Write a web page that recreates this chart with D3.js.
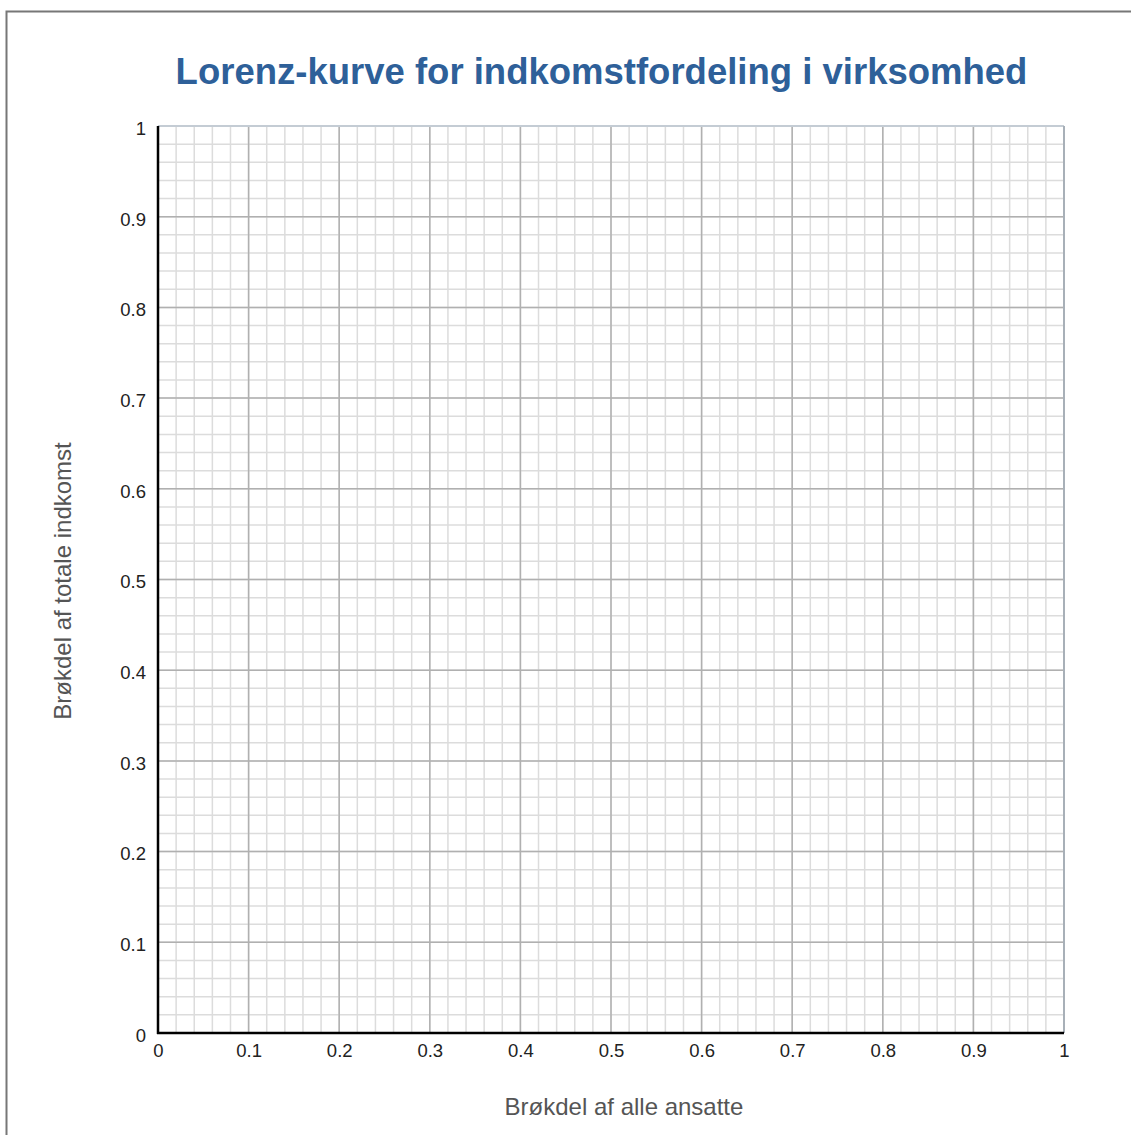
<!DOCTYPE html>
<html><head><meta charset="utf-8">
<script src="https://cdn.jsdelivr.net/npm/d3@7"></script>
<style>html,body{margin:0;padding:0;background:#fff;}svg{display:block;}</style>
</head><body>
<script>
const title = "Lorenz-kurve for indkomstfordeling i virksomhed";
const xLabel = "Brøkdel af alle ansatte";
const yLabel = "Brøkdel af totale indkomst";
const majorTicks = [0,0.1,0.2,0.3,0.4,0.5,0.6,0.7,0.8,0.9,1];
const minorTicks = d3.range(0,51).map(i=>i/50);
const tickLabels = ["0","0.1","0.2","0.3","0.4","0.5","0.6","0.7","0.8","0.9","1"];

const W=1131,H=1135;
const L=158,R=1064,T=126,B=1033;
const FONT="Liberation Sans, Arial, sans-serif";
const svg=d3.select("body").append("svg").attr("width",W).attr("height",H);
svg.append("rect").attr("x",0).attr("y",0).attr("width",W).attr("height",H).attr("fill","#fff");
svg.append("rect").attr("x",6.5).attr("y",11.5).attr("width",W).attr("height",H).attr("fill","#fff").attr("stroke","#777").attr("stroke-width",2);

const x=d3.scaleLinear().domain([0,1]).range([L,R]);
const y=d3.scaleLinear().domain([0,1]).range([B,T]);

const g=svg.append("g");
g.selectAll("line.vmin").data(minorTicks).join("line").attr("x1",d=>x(d)).attr("x2",d=>x(d)).attr("y1",T).attr("y2",B).attr("stroke","#dcdcdc").attr("stroke-width",1.5);
g.selectAll("line.hmin").data(minorTicks).join("line").attr("y1",d=>y(d)).attr("y2",d=>y(d)).attr("x1",L).attr("x2",R).attr("stroke","#dcdcdc").attr("stroke-width",1.5);
g.selectAll("line.vmaj").data(majorTicks).join("line").attr("x1",d=>x(d)).attr("x2",d=>x(d)).attr("y1",T).attr("y2",B).attr("stroke","#b0b0b0").attr("stroke-width",1.5);
g.selectAll("line.hmaj").data(majorTicks).join("line").attr("y1",d=>y(d)).attr("y2",d=>y(d)).attr("x1",L).attr("x2",R).attr("stroke","#b0b0b0").attr("stroke-width",1.5);
g.append("line").attr("x1",L).attr("x2",R).attr("y1",T).attr("y2",T).attr("stroke","#c4ccd4").attr("stroke-width",2);
g.append("line").attr("x1",R).attr("x2",R).attr("y1",T).attr("y2",B).attr("stroke","#a8b0b8").attr("stroke-width",2);

const xAxis=d3.axisBottom(x).tickValues(majorTicks).tickFormat((d,i)=>tickLabels[i]).tickSize(0).tickPadding(11);
const yAxis=d3.axisLeft(y).tickValues(majorTicks).tickFormat((d,i)=>tickLabels[i]).tickSize(0).tickPadding(12);
const gx=svg.append("g").attr("transform",`translate(0,${B})`).call(xAxis);
const gy=svg.append("g").attr("transform",`translate(${L},0)`).call(yAxis);
[gx,gy].forEach(a=>{a.select(".domain").attr("stroke","#000").attr("stroke-width",2.5);
 a.selectAll("text").attr("font-family",FONT).attr("font-size",18.5).attr("fill","#222");});
gy.selectAll("text").attr("dy","0.45em");
gy.select(".domain").attr("d",`M0,${B+1}V${T}`);
gx.select(".domain").attr("d",`M${L-1},0H${R}`);

svg.append("text").attr("x",601.5).attr("y",84).attr("text-anchor","middle")
 .attr("font-family",FONT).attr("font-weight","bold").attr("font-size",36.5).attr("fill","#2e6099").text(title);
svg.append("text").attr("x",624).attr("y",1115).attr("text-anchor","middle")
 .attr("font-family",FONT).attr("font-size",24).attr("fill","#555").text(xLabel);
svg.append("text").attr("transform","translate(71,581) rotate(-90)").attr("text-anchor","middle")
 .attr("font-family",FONT).attr("font-size",24).attr("fill","#555").text(yLabel);
</script>
</body></html>
